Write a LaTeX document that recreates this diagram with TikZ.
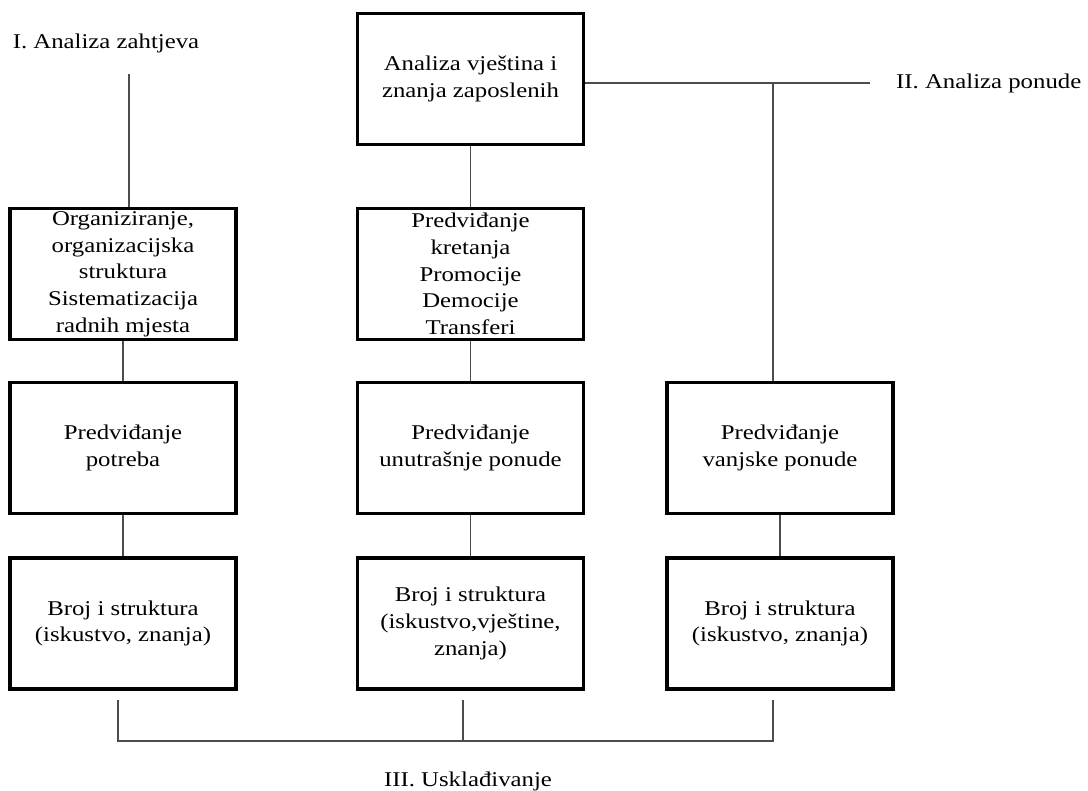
\documentclass[tikz,border=0pt]{standalone}
\usepackage{fontspec}
\setmainfont{Liberation Serif}[FakeStretch=1.18]
\begin{document}
\begin{tikzpicture}[x=1pt,y=-1pt,
  box/.style={draw=black, line width=3.5pt, minimum width=226pt, minimum height=131pt,
    inner sep=0pt, align=center, font=\fontsize{21}{26.7}\selectfont},
  lbl/.style={inner sep=0pt, font=\fontsize{21}{26.7}\selectfont},
  conn/.style={draw=black!70, line width=1.4pt}]
\useasboundingbox (0,0) rectangle (1088,791);
% boxes
\node[box] (top) at (470.5,79) {Analiza vještina i\\znanja zaposlenih};
\node[box] (l1) at (123,274) {Organiziranje,\\organizacijska\\struktura\\Sistematizacija\\radnih mjesta};
\node[box] (c1) at (470.5,274) {Predviđanje\\kretanja\\Promocije\\Democije\\Transferi};
\node[box] (l2) at (123,448) {Predviđanje\\potreba};
\node[box] (c2) at (470.5,448) {Predviđanje\\unutrašnje ponude};
\node[box] (r2) at (780,448) {Predviđanje\\vanjske ponude};
\node[box] (l3) at (123,623.5) {Broj i struktura\\(iskustvo, znanja)};
\node[box] (c3) at (470.5,623.5) {Broj i struktura\\(iskustvo,vještine,\\znanja)};
\node[box] (r3) at (780,623.5) {Broj i struktura\\(iskustvo, znanja)};
% labels
\node[lbl] (la) at (106,43) {I. Analiza zahtjeva};
\node[lbl, anchor=west] (lb) at (896,83) {II. Analiza ponude};
\node[lbl] (lc) at (468,781) {III. Usklađivanje};
% coordinates
\coordinate (a1) at (129,74);
\coordinate (h1) at (773,83);
\coordinate (h2) at (870,83);
\coordinate (b1) at (118,700);
\coordinate (b2) at (463,700);
\coordinate (b3) at (773,700);
\coordinate (d1) at (118,741);
\coordinate (d2) at (463,741);
\coordinate (d3) at (773,741);
% connectors
\draw[conn] (a1) -- (a1 |- l1.north);
\draw[conn] (top.south) -- (c1.north);
\draw[conn] (top.east |- h1) -- (h2);
\draw[conn] (h1) -- (h1 |- r2.north);
\draw[conn] (l1.south) -- (l2.north);
\draw[conn] (c1.south) -- (c2.north);
\draw[conn] (l2.south) -- (l3.north);
\draw[conn] (c2.south) -- (c3.north);
\draw[conn] (r2.south) -- (r3.north);
\draw[conn] (b1) -- (d1) -- (d3) -- (b3);
\draw[conn] (b2) -- (d2);
\end{tikzpicture}
\end{document}
